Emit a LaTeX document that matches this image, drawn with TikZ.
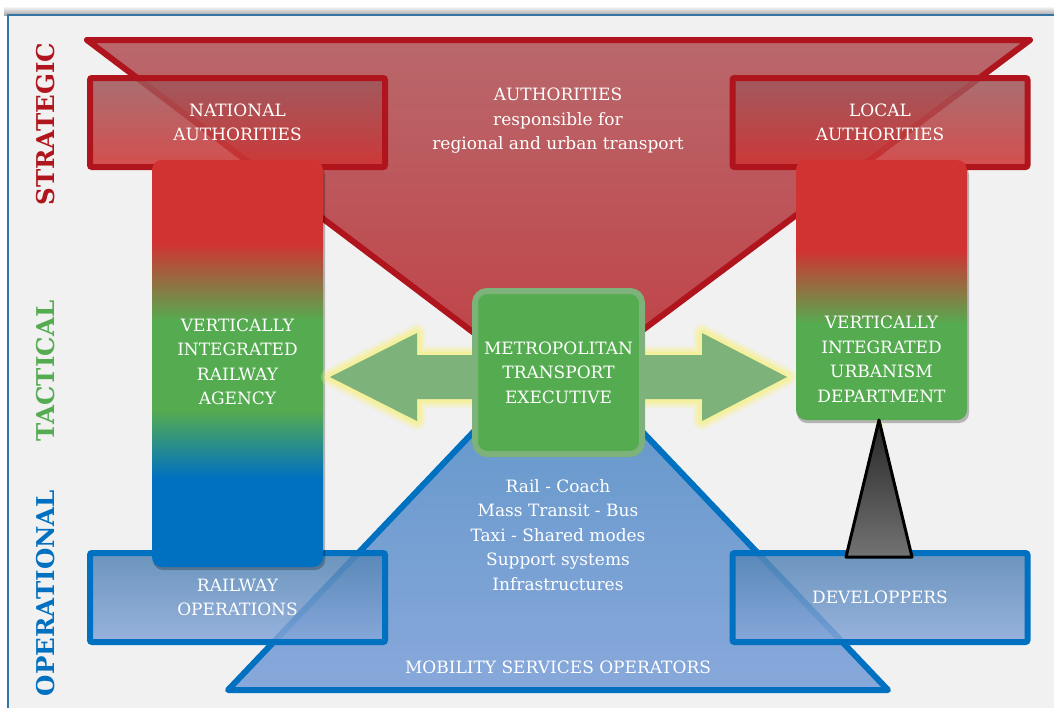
\documentclass[tikz,border=0pt]{standalone}
\usepackage{fontspec}
\setmainfont{DejaVu Serif}
\usetikzlibrary{shadows}

\definecolor{stratred}{HTML}{B0141C}
\definecolor{colred}{HTML}{D13232}
\definecolor{tactgreen}{HTML}{55AC50}
\definecolor{operblue}{HTML}{0070C0}
\definecolor{arrowgreen}{HTML}{7DB27A}
\definecolor{glowyellow}{HTML}{F6F08C}
\definecolor{panelgray}{HTML}{F1F1F1}
\definecolor{redtop}{HTML}{B9686C}
\definecolor{redbottom}{HTML}{C13E43}
\definecolor{bluetop}{HTML}{5E94C8}
\definecolor{bluebottom}{HTML}{88A8DA}

\tikzset{
  boxtext/.style={text=white, align=center, font=\fontsize{17}{24.5}\selectfont},
  levellabel/.style={rotate=90, font=\bfseries\fontsize{24.5}{24.5}\selectfont},
  redbox/.style={boxtext, draw=stratred, line width=6pt, rounded corners=2pt,
    top color=redtop!85!black, bottom color=colred, fill opacity=0.85,
    text opacity=1, minimum width=295pt, minimum height=89pt},
  bluebox/.style={boxtext, draw=operblue, line width=6pt, rounded corners=2pt,
    top color=bluetop!90!black, bottom color=bluebottom, fill opacity=0.85,
    text opacity=1, minimum width=295pt, minimum height=89pt},
  softshadow/.style={drop shadow={opacity=0.3, shadow xshift=1pt, shadow yshift=-2.5pt}}
}

\begin{document}
\begin{tikzpicture}[x=1pt, y=-1pt]
  \useasboundingbox (0,0) rectangle (1054,707);
  \fill[white] (0,0) rectangle (1054,707);

  % Background panel with its shadow
  \shade[top color=white, bottom color=black!35] (4,6) rectangle (1054,15);
  \draw[fill=panelgray, draw=operblue!60!gray, line width=1.5pt] (8,15) rectangle (1060,712);

  % Level labels
  \foreach \y/\lbl/\col in {124/STRATEGIC/stratred, 371/TACTICAL/tactgreen, 593/OPERATIONAL/operblue} {
    \node[levellabel, text=\col] (\lbl) at (46,\y) {\lbl};
  }

  % Big triangles (authorities on top, operators below)
  \shade[top color=redtop, bottom color=redbottom,
    draw=stratred, line width=6pt, line join=round, softshadow]
    (87,40) -- (1030,40) -- (556,395) -- cycle;
  \shade[top color=bluetop, bottom color=bluebottom,
    draw=operblue, line width=6pt, line join=round, softshadow]
    (228,690) -- (888,690) -- (558,343) -- cycle;

  % Boxes at the corners
  \node[redbox] (natauth) at (237.5,122.5) {NATIONAL\\AUTHORITIES};
  \node[redbox] (locauth) at (880,122.5) {LOCAL\\AUTHORITIES};
  \node[bluebox] (railops) at (237.5,597.5) {RAILWAY\\OPERATIONS};
  \node[bluebox] (devel) at (880,597.5) {DEVELOPPERS};

  % Left column: red -> green -> blue
  \fill[black, opacity=0.25] (153,165) [rounded corners=10pt] rectangle (325,570);
  \begin{scope}
    \clip[rounded corners=10pt] (152,160) rectangle (323,567);
    \fill[colred] (150,158) rectangle (325,244);
    \shade[top color=colred, bottom color=tactgreen] (150,243) rectangle (325,321);
    \fill[tactgreen] (150,320) rectangle (325,411);
    \shade[top color=tactgreen, bottom color=operblue] (150,410) rectangle (325,478);
    \fill[operblue] (150,477) rectangle (325,570);
  \end{scope}

  % Right column: red -> green
  \fill[black, opacity=0.25] (797,165) [rounded corners=10pt] rectangle (969,423);
  \begin{scope}
    \clip[rounded corners=10pt] (796,160) rectangle (967,420);
    \fill[colred] (794,158) rectangle (970,251);
    \shade[top color=colred, bottom color=tactgreen] (794,250) rectangle (970,324);
    \fill[tactgreen] (794,323) rectangle (970,422);
  \end{scope}

  \node[boxtext] (railagency) at (237.5,362) {VERTICALLY\\INTEGRATED\\RAILWAY\\AGENCY};
  \node[boxtext] (urbdept) at (881.5,359.5) {VERTICALLY\\INTEGRATED\\URBANISM\\DEPARTMENT};

  % Double arrow behind the executive, with a glow
  \path[save path=\mtearrow] (330,377) -- (417,333) -- (417,355) -- (702,355) -- (702,333)
    -- (787,377) -- (702,421) -- (702,399) -- (417,399) -- (417,421) -- cycle;
  \foreach \w/\op in {18/0.25, 12/0.4, 7/0.6} {
    \draw[use path=\mtearrow, glowyellow, line width=\w pt, line join=round, opacity=\op];
  }
  \fill[use path=\mtearrow, arrowgreen];

  % Metropolitan transport executive
  \node[boxtext, fill=tactgreen, draw=arrowgreen, line width=6pt, rounded corners=12pt,
    minimum width=167pt, minimum height=163pt, softshadow] (mte) at (558.5,372.5)
    {METROPOLITAN\\TRANSPORT\\EXECUTIVE};

  % Developers feed the urbanism department
  \draw[glowyellow, line width=8pt, opacity=0.5, line cap=round] (879,424) -- (881,445);
  \shade[top color=black!85, bottom color=black!55, draw=black, line width=3pt, line join=round]
    (879,420) -- (912,557) -- (846,557) -- cycle;

  % Texts of the triangles
  \node[boxtext] (authorities) at (558,121) {AUTHORITIES\\responsible for\\regional and urban transport};
  \node[boxtext] (modes) at (558,535) {Rail - Coach\\Mass Transit - Bus\\Taxi - Shared modes\\Support systems\\Infrastructures};
  \node[boxtext] (mobility) at (558,667) {MOBILITY SERVICES OPERATORS};
\end{tikzpicture}
\end{document}
